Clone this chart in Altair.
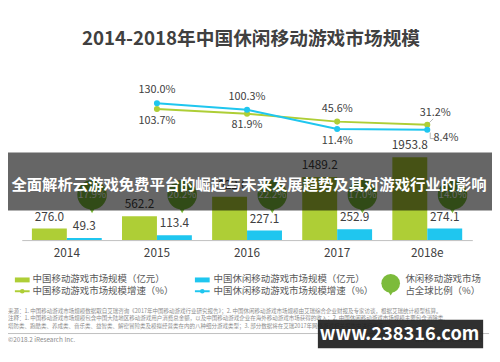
import altair as alt
import pandas as pd

# ---------------- data ----------------
years = ["2014", "2015", "2016", "2017", "2018e"]
mobile_size = [276.0, 562.2, 1022.6, 1489.2, 1953.8]
casual_size = [49.3, 113.4, 227.1, 252.9, 274.1]
growth_years = ["2015", "2016", "2017", "2018e"]
mobile_growth = [103.7, 81.9, 45.6, 31.2]
casual_growth = [130.0, 100.3, 11.4, 8.4]
casual_share = [17.9, 20.2, 22.2, 17.0, 14.0]

series_keys = ["mobile", "casual"]
legend_labels = [
    "中国移动游戏市场规模（亿元）",
    "中国移动游戏市场规模增速（%）",
    "中国休闲移动游戏市场规模（亿元）",
    "中国休闲移动游戏市场规模增速（%）",
    "休闲移动游戏市场",
    "占全球比例（%）",
]
title_text = "2014-2018年中国休闲移动游戏市场规模"
banner_text = "全面解析云游戏免费平台的崛起与未来发展趋势及其对游戏行业的影响"
notes = [
    "来源：1. 中国移动游戏市场规模数据取自艾瑞咨询《2017年中国移动游戏行业研究报告》；2. 中国休闲移动游戏市场规模由艾瑞综合企业财报及专家访谈，根据艾瑞统计模型核算。",
    "注释：1. 中国移动游戏市场规模包含中国大陆地区移动游戏用户消费总金额，以及中国移动游戏企业在海外移动游戏市场获得的收入；2. 中国休闲移动游戏市场规模主要包含消除类、",
    "塔防类、跑酷类、养成类、音乐类、益智类、解密冒险类及模拟经营类在内的八种细分游戏类型；3. 部分数据将在艾瑞2017年网络游戏相关报告中进行修正。",
]
copyright_text = "©2018.2 iResearch Inc."
site_text = "www.iresearch.com.cn"
watermark_text = "www.238316.com"

# ---------------- style ----------------
FONT = "Noto Sans CJK SC"
GREEN = "#AECE36"
BLUE = "#1FC6EF"
BUBBLE = "#7CBB3B"
TXT = "#404040"

bars_df = pd.DataFrame({
    "year": years * 2,
    "series": ["mobile"] * len(years) + ["casual"] * len(years),
    "value": mobile_size + casual_size,
})
growth_df = pd.DataFrame({
    "year": growth_years * 2,
    "series": ["mobile"] * len(growth_years) + ["casual"] * len(growth_years),
    "growth": mobile_growth + casual_growth,
})
# which line is on top at each year (label above) / below
rank_rows = []
for i, yv in enumerate(growth_years):
    g, c = mobile_growth[i], casual_growth[i]
    hi, lo = (("mobile", g), ("casual", c)) if g >= c else (("casual", c), ("mobile", g))
    last = yv == growth_years[-1]
    rank_rows.append({"year": yv, "series": hi[0], "growth": hi[1], "pos": "upper", "last": last})
    rank_rows.append({"year": yv, "series": lo[0], "growth": lo[1], "pos": "lower", "last": last})
lab_df = pd.DataFrame(rank_rows)
lab_df["label"] = lab_df["growth"].map(lambda v: f"{v:.1f}%")
share_df = pd.DataFrame({"year": years, "share": casual_share})
share_df["label"] = share_df["share"].map(lambda v: f"{v:.1f}%")

AXIS = alt.Axis(title=None, labelFont=FONT, labelFontSize=12, labelColor=TXT,
                labelPadding=8, ticks=False, domainColor="#BFBFBF", labelAngle=0,
                grid=False)
XSCALE = alt.Scale(domain=years, paddingInner=0, paddingOuter=0)
X = alt.X("year:N", scale=XSCALE, axis=AXIS)
XB = alt.X("year:N", bandPosition=0.78, scale=XSCALE, axis=AXIS)
XO = alt.XOffset("series:N", scale=alt.Scale(domain=series_keys, paddingInner=0, paddingOuter=0.29))
COLOR = alt.Color("series:N", scale=alt.Scale(domain=series_keys, range=[GREEN, BLUE]), legend=None)
YB = alt.Y("value:Q", scale=alt.Scale(domain=[0, 4200]), axis=None)
YG = alt.Y("growth:Q", scale=alt.Scale(domain=[-500, 320]), axis=None)

bars = alt.Chart(bars_df).mark_bar().encode(x=X, xOffset=XO, y=YB, color=COLOR)
bar_labels = alt.Chart(bars_df).mark_text(
    font=FONT, fontSize=12, color=TXT, dy=-12, baseline="middle"
).encode(x=X, xOffset=XO, y=YB, text=alt.Text("value:Q", format=".1f"))

lines = alt.Chart(growth_df).mark_line(strokeWidth=2).encode(x=X, y=YG, color=COLOR)
dots = alt.Chart(growth_df).mark_circle(size=38, opacity=1).encode(x=X, y=YG, color=COLOR)

def glabel(pos, last, dx, dy):
    return alt.Chart(lab_df).transform_filter(
        f"datum.pos == '{pos}' && datum.last == {str(last).lower()}"
    ).mark_text(font=FONT, fontSize=11, color=TXT, dx=dx, dy=dy, baseline="middle").encode(
        x=X, y=YG, text="label:N")

lab_up = glabel("upper", False, 0, -13)
lab_lo = glabel("lower", False, 0, 12)
lab_up_last = glabel("upper", True, 8, -12)
lab_lo_last = glabel("lower", True, 19, 8)

lead1 = alt.Chart(lab_df).transform_filter("datum.pos == 'upper' && datum.last").mark_rule(
    color="#A6A6A6", strokeWidth=0.8, xOffset=2, yOffset=-2, x2Offset=6, y2Offset=-6
).encode(x=X, x2="year:N", y=YG, y2="growth:Q")
lead2 = alt.Chart(lab_df).transform_filter("datum.pos == 'lower' && datum.last").mark_rule(
    color="#A6A6A6", strokeWidth=0.8, xOffset=3, yOffset=3, x2Offset=3, y2Offset=9
).encode(x=X, x2="year:N", y=YG, y2="growth:Q")
lead3 = alt.Chart(lab_df).transform_filter("datum.pos == 'lower' && datum.last").mark_rule(
    color="#A6A6A6", strokeWidth=0.8, xOffset=3, yOffset=9, x2Offset=7, y2Offset=9
).encode(x=X, x2="year:N", y=YG, y2="growth:Q")

bubble = alt.Chart(share_df).mark_circle(size=900, color=BUBBLE, opacity=1).encode(
    x=XB, y=alt.value(135))
bubble_tail = alt.Chart(share_df).mark_point(
    shape="triangle-down", filled=True, size=70, color=BUBBLE, opacity=1).encode(
    x=XB, y=alt.value(150))
bubble_text = alt.Chart(share_df).mark_text(
    font=FONT, fontSize=10, color="white", baseline="middle").encode(
    x=XB, y=alt.value(135), text="label:N")

one = pd.DataFrame({"k": [0]})

def txt(s, x, y, size, color, align="left", weight="normal"):
    return alt.Chart(pd.DataFrame({"t": [s]})).mark_text(
        font=FONT, fontSize=size, color=color, align=align, baseline="middle",
        fontWeight=weight).encode(x=alt.value(x), y=alt.value(y), text="t:N")

def box(x, x2, y, y2, color, opacity=1.0):
    return alt.Chart(one).mark_rect(color=color, opacity=opacity).encode(
        x=alt.value(x), x2=alt.value(x2), y=alt.value(y), y2=alt.value(y2))

def hline(x, x2, y, color, w):
    return alt.Chart(one).mark_rule(color=color, strokeWidth=w).encode(
        x=alt.value(x), x2=alt.value(x2), y=alt.value(y))

def dot(x, y, color, size):
    return alt.Chart(one).mark_circle(color=color, size=size, opacity=1).encode(
        x=alt.value(x), y=alt.value(y))

title = txt(title_text, 233, -23, 19, TXT, align="center", weight="bold")

legend = [
    box(-7, 8, 219, 224, GREEN),
    txt(legend_labels[0], 11, 221, 9.6, "#595959"),
    hline(-7, 8, 233, GREEN, 2), dot(0.5, 233, GREEN, 22),
    txt(legend_labels[1], 11, 233, 9.6, "#595959"),
    box(176, 191, 219, 224, BLUE),
    txt(legend_labels[2], 195, 221, 9.6, "#595959"),
    hline(176, 191, 233, BLUE, 2), dot(183.5, 233, BLUE, 22),
    txt(legend_labels[3], 195, 233, 9.6, "#595959"),
    dot(375, 225, BUBBLE, 360),
    alt.Chart(one).mark_point(shape="triangle-down", filled=True, size=30, color=BUBBLE, opacity=1)
      .encode(x=alt.value(375), y=alt.value(235)),
    txt(legend_labels[4], 390, 221, 9.6, "#595959"),
    txt(legend_labels[5], 390, 233, 9.6, "#595959"),
]

footer = [
    txt(notes[0], -14, 252.7, 5.6, "#8C8C8C"),
    txt(notes[1], -14, 260.7, 5.6, "#8C8C8C"),
    txt(notes[2], -14, 268.7, 5.6, "#8C8C8C"),
    hline(-14, 475, 276, "#BFBFBF", 1),
    txt(copyright_text, -14, 283, 6.5, "#8C8C8C"),
    txt(site_text, 468, 283, 6.5, "#8C8C8C", align="right"),
]

banner = [
    box(-22, 478, 92, 151, "black", 0.6),
    txt(banner_text, 231, 125, 15.6, "white", align="center", weight="bold"),
]

watermark = [
    box(301, 469, 262, 291, "#1E1E1E", 0.92),
    txt(watermark_text, 384, 277, 18.5, "white", align="center", weight="bold"),
]

chart = alt.layer(
    bars, bar_labels, lines, dots, lab_up, lab_lo, lab_up_last, lab_lo_last,
    lead1, lead2, lead3, bubble, bubble_tail, bubble_text, title,
    *legend, *footer, *banner, *watermark,
).resolve_scale(y="independent").properties(
    width=458, height=181,
    padding={"left": 14, "top": 52, "right": 20, "bottom": 121},
    autosize=alt.AutoSizeParams(type="none"),
    background="white",
).configure_view(stroke=None)

chart.save("out.html", embed_options={"renderer": "svg", "actions": False})
